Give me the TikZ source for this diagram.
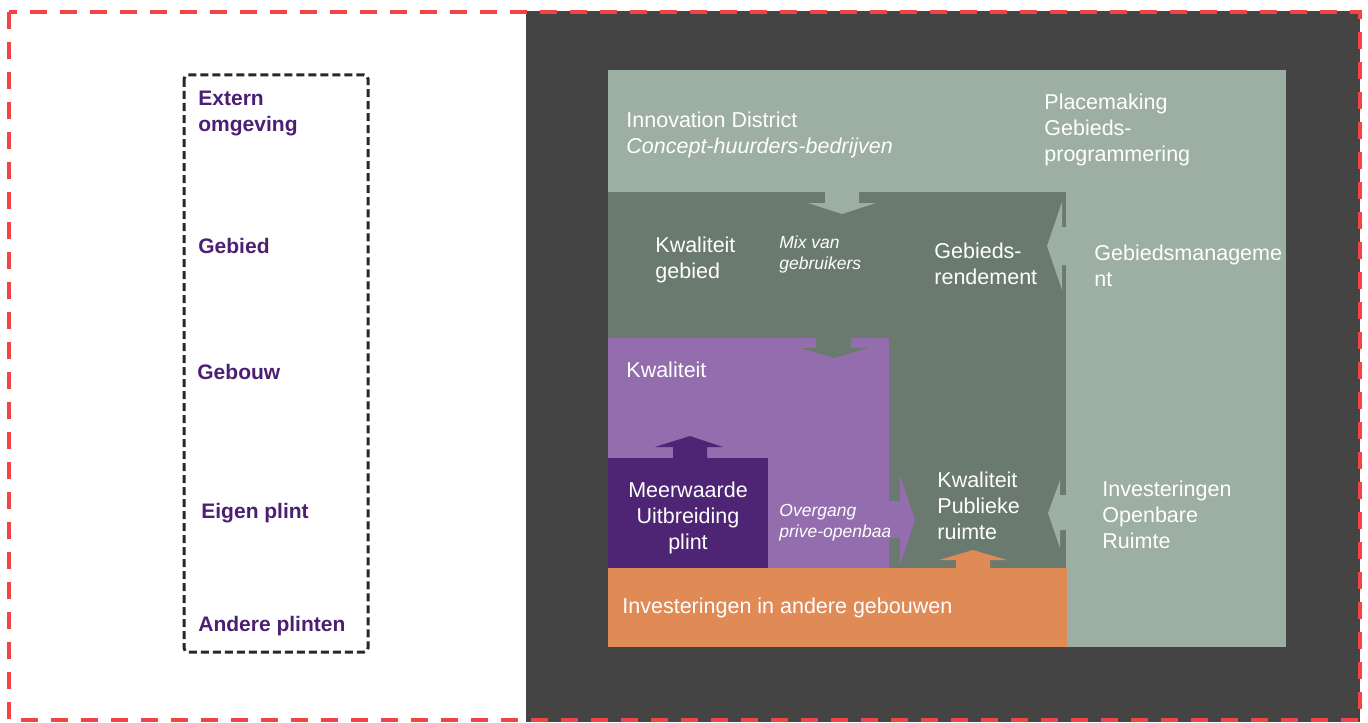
\documentclass[tikz,border=0pt]{standalone}
\usepackage{fontspec}
\setmainfont{Liberation Sans}
\usetikzlibrary{positioning}
\definecolor{FrameRed}{RGB}{244, 67, 70}
\definecolor{PanelGray}{RGB}{68, 68, 68}
\definecolor{SageLight}{RGB}{157, 174, 163}
\definecolor{SageDark}{RGB}{106, 122, 110}
\definecolor{PlintPurple}{RGB}{147, 109, 173}
\definecolor{PlintDeep}{RGB}{78, 36, 116}
\definecolor{InvestOrange}{RGB}{224, 138, 86}
\definecolor{LevelInk}{RGB}{34, 41, 51}
\definecolor{LevelPurple}{RGB}{75, 31, 115}

\begin{document}
\begin{tikzpicture}[x=0.5pt, y=-0.5pt,
    levelbox/.style={draw=LevelInk, line width=1.5pt, dash pattern=on 4pt off 2pt, rounded corners=2pt},
    leveltext/.style={anchor=north west, inner sep=0pt, align=left, text=LevelPurple, font=\fontsize{10.5}{13}\selectfont\bfseries},
    whitetext/.style={anchor=north west, inner sep=0pt, align=left, text=white, font=\fontsize{10.75}{13}\selectfont},
    smalltext/.style={anchor=north west, inner sep=0pt, align=left, text=white, font=\fontsize{8.75}{10.5}\selectfont\itshape}
]
\useasboundingbox (0,0) rectangle (1368,722);

% Background panel
\fill[PanelGray] (526,11) rectangle (1360,722);

% Levels
\draw[levelbox] (184,75) rectangle (368,652);
\node[leveltext] (extern) at (198,91) {Extern\\omgeving};
\node[leveltext] (gebied) at (198,238) {Gebied};
\node[leveltext] (gebouw) at (197,364) {Gebouw};
\node[leveltext] (eigen) at (201,503) {Eigen plint};
\node[leveltext] (andere) at (198,616) {Andere plinten};

% Blocks
\fill[SageLight] (608,70) rectangle (1286,647);
\fill[SageDark] (608,192) rectangle (1066,568);
\fill[PlintPurple] (608,338) rectangle (889,568);
\fill[PlintDeep] (608,458) rectangle (768,568);
\fill[InvestOrange] (608,568) rectangle (1067,647);

% Arrows
\fill[SageLight] (825,191) -- (859,191) -- (859,203) -- (876,203) -- (842,214) -- (808,203) -- (825,203) -- cycle;
\fill[SageDark] (816,337) -- (851,337) -- (851,348) -- (868,348) -- (834,358) -- (800,348) -- (816,348) -- cycle;
\fill[SageLight] (1067,227) -- (1062,227) -- (1062,202) -- (1047,246) -- (1062,290) -- (1062,265) -- (1067,265) -- cycle;
\fill[PlintDeep] (673,459) -- (673,447) -- (655,447) -- (690,436) -- (723,447) -- (707,447) -- (707,459) -- cycle;
\fill[PlintPurple] (888,501) -- (900,501) -- (900,475) -- (915,520) -- (900,565) -- (900,538) -- (888,538) -- cycle;
\fill[InvestOrange] (956,569) -- (956,560) -- (939,560) -- (973,550) -- (1007,560) -- (990,560) -- (990,569) -- cycle;
\fill[SageLight] (1067,495) -- (1060,495) -- (1060,480) -- (1048,513) -- (1060,548) -- (1060,530) -- (1067,530) -- cycle;

% Texts
\node[whitetext] (district) at (626,112) {Innovation District\\\textit{Concept-huurders-bedrijven}};
\node[whitetext] (placemaking) at (1044,94) {Placemaking\\Gebieds-\\programmering};
\node[whitetext] (kwgebied) at (655,237) {Kwaliteit\\gebied};
\node[smalltext] (mix) at (779,235) {Mix van\\gebruikers};
\node[whitetext] (rendement) at (934,243) {Gebieds-\\rendement};
\node[whitetext] (management) at (1094,245) {Gebiedsmanageme\\nt};
\node[whitetext] (kwgebouw) at (626,362) {Kwaliteit};
\node[whitetext, anchor=north, align=center] (meerwaarde) at (688,482) {Meerwaarde\\Uitbreiding\\plint};
\begin{scope}
\clip (768,458) rectangle (889,568);
\node[smalltext] (overgang) at (779,504) {Overgang\\prive-openbaar};
\end{scope}
\node[whitetext] (kwpubliek) at (937,472) {Kwaliteit\\Publieke\\ruimte};
\node[whitetext] (openbaar) at (1102,481) {Investeringen\\Openbare\\Ruimte};
\node[whitetext] (andergebouw) at (622,598) {Investeringen in andere gebouwen};

% Frame
\draw[FrameRed, line width=2pt, dash pattern=on 8.5pt off 6.5pt] (9,12) rectangle (1360,720);

\end{tikzpicture}
\end{document}
